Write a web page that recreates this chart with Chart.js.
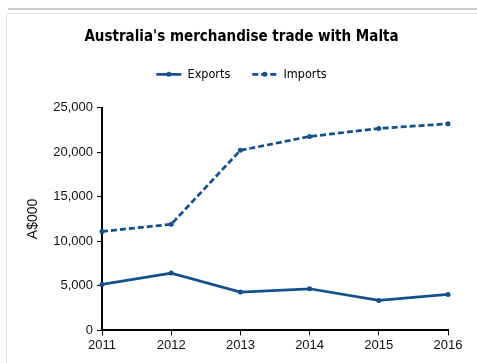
<!DOCTYPE html>
<html>
<head>
<meta charset="utf-8">
<script src="https://cdn.jsdelivr.net/npm/chart.js@4/dist/chart.umd.min.js"></script>
<style>
  html, body { margin: 0; padding: 0; background: #fff; }
  #wrap { position: relative; width: 477px; height: 363px; overflow: hidden; }
  .frame { position: absolute; }
  #bandTop { left: 8px; top: 8px; width: 469px; height: 2px; background: #cdcdcd; }
  #lineTop { left: 6px; top: 13px; width: 471px; height: 1px; background: #e2e2e2; }
  #lineLeft { left: 6px; top: 13px; width: 1px; height: 350px; background: #e2e2e2; }
  canvas { position: absolute; left: 0; top: 0; }
</style>
</head>
<body>
<div id="wrap">
  <div class="frame" id="bandTop"></div>
  <div class="frame" id="lineTop"></div>
  <div class="frame" id="lineLeft"></div>
  <canvas id="c" width="477" height="363"></canvas>
</div>
<script>
// Years and trade values (A$000)
const years = ['2011', '2012', '2013', '2014', '2015', '2016'];
const exportsValues = [5160, 6430, 4300, 4670, 3360, 4040];
const importsValues = [11100, 11900, 20200, 21750, 22650, 23170];
const yTicks = [0, 5000, 10000, 15000, 20000, 25000];

const blue = '#14508c';
const tickFont = { family: '"Liberation Sans", Arial, sans-serif', size: 13 };

// Extra room under the legend and a marker dot in each legend line sample
const legendTweaks = {
  id: 'legendTweaks',
  afterInit(chart) {
    const lg = chart.legend;
    if (!lg) return;
    const baseFit = lg.fit;
    lg.fit = function () {
      baseFit.call(this);
      this.height += 17;
    };
  },
  afterDraw(chart) {
    const lg = chart.legend;
    if (!lg || !lg.legendHitBoxes) return;
    const ctx = chart.ctx;
    const w = lg.options.labels.pointStyleWidth;
    lg.legendHitBoxes.forEach((hb) => {
      ctx.save();
      ctx.fillStyle = blue;
      ctx.beginPath();
      ctx.arc(hb.left + w / 2, hb.top + hb.height / 2, 2.5, 0, Math.PI * 2);
      ctx.fill();
      ctx.restore();
    });
  }
};

new Chart(document.getElementById('c'), {
  type: 'line',
  data: {
    labels: years,
    datasets: [
      {
        label: 'Exports',
        data: exportsValues,
        borderColor: blue,
        backgroundColor: blue,
        borderWidth: 2.75,
        pointRadius: 2.5,
        pointBorderWidth: 0,
        pointBackgroundColor: blue,
        tension: 0,
        fill: false
      },
      {
        label: 'Imports',
        data: importsValues,
        borderColor: blue,
        backgroundColor: blue,
        borderWidth: 2.75,
        borderDash: [6, 3],
        pointRadius: 2.5,
        pointBorderWidth: 0,
        pointBackgroundColor: blue,
        tension: 0,
        fill: false
      }
    ]
  },
  options: {
    responsive: false,
    animation: false,
    devicePixelRatio: 1,
    layout: { padding: { top: 18, right: 29, bottom: 8, left: 35 } },
    plugins: {
      title: {
        display: true,
        text: "Australia's merchandise trade with Malta",
        color: '#000',
        font: { family: '"DejaVu Sans Condensed", "DejaVu Sans", sans-serif', size: 15, weight: 'bold' },
        padding: { top: 10, bottom: 0 }
      },
      legend: {
        display: true,
        position: 'top',
        labels: {
          color: '#000',
          font: { family: '"DejaVu Sans Condensed", "DejaVu Sans", sans-serif', size: 12.5 },
          usePointStyle: true,
          pointStyleWidth: 25,
          boxHeight: 12,
          padding: 22,
          generateLabels(chart) {
            return chart.data.datasets.map((ds, i) => ({
              text: ds.label,
              datasetIndex: i,
              pointStyle: 'line',
              strokeStyle: blue,
              fillStyle: blue,
              lineWidth: 2.75,
              lineDash: ds.borderDash || [],
              fontColor: '#000',
              hidden: false
            }));
          }
        }
      },
      tooltip: { enabled: false }
    },
    scales: {
      x: {
        offset: false,
        grid: { display: true, drawOnChartArea: false, drawTicks: true, tickLength: 5, color: '#000', lineWidth: 1 },
        border: { display: true, color: '#000', width: 2 },
        ticks: { color: '#111', font: tickFont, padding: 2, maxRotation: 0 }
      },
      y: {
        min: 0,
        max: 25000,
        afterBuildTicks(scale) {
          scale.ticks = yTicks.map((v) => ({ value: v }));
        },
        afterFit(scale) {
          scale.width = 67;
        },
        grid: { display: true, drawOnChartArea: false, drawTicks: true, tickLength: 5, color: '#000', lineWidth: 1 },
        border: { display: true, color: '#000', width: 2 },
        ticks: {
          color: '#111',
          font: tickFont,
          padding: 4,
          callback: (v) => Number(v).toLocaleString('en-US')
        },
        title: {
          display: true,
          text: 'A$000',
          color: '#111',
          font: { family: '"Liberation Sans", Arial, sans-serif', size: 14 },
          padding: { top: -10, bottom: 0 }
        }
      }
    }
  },
  plugins: [legendTweaks]
});
</script>
</body>
</html>
